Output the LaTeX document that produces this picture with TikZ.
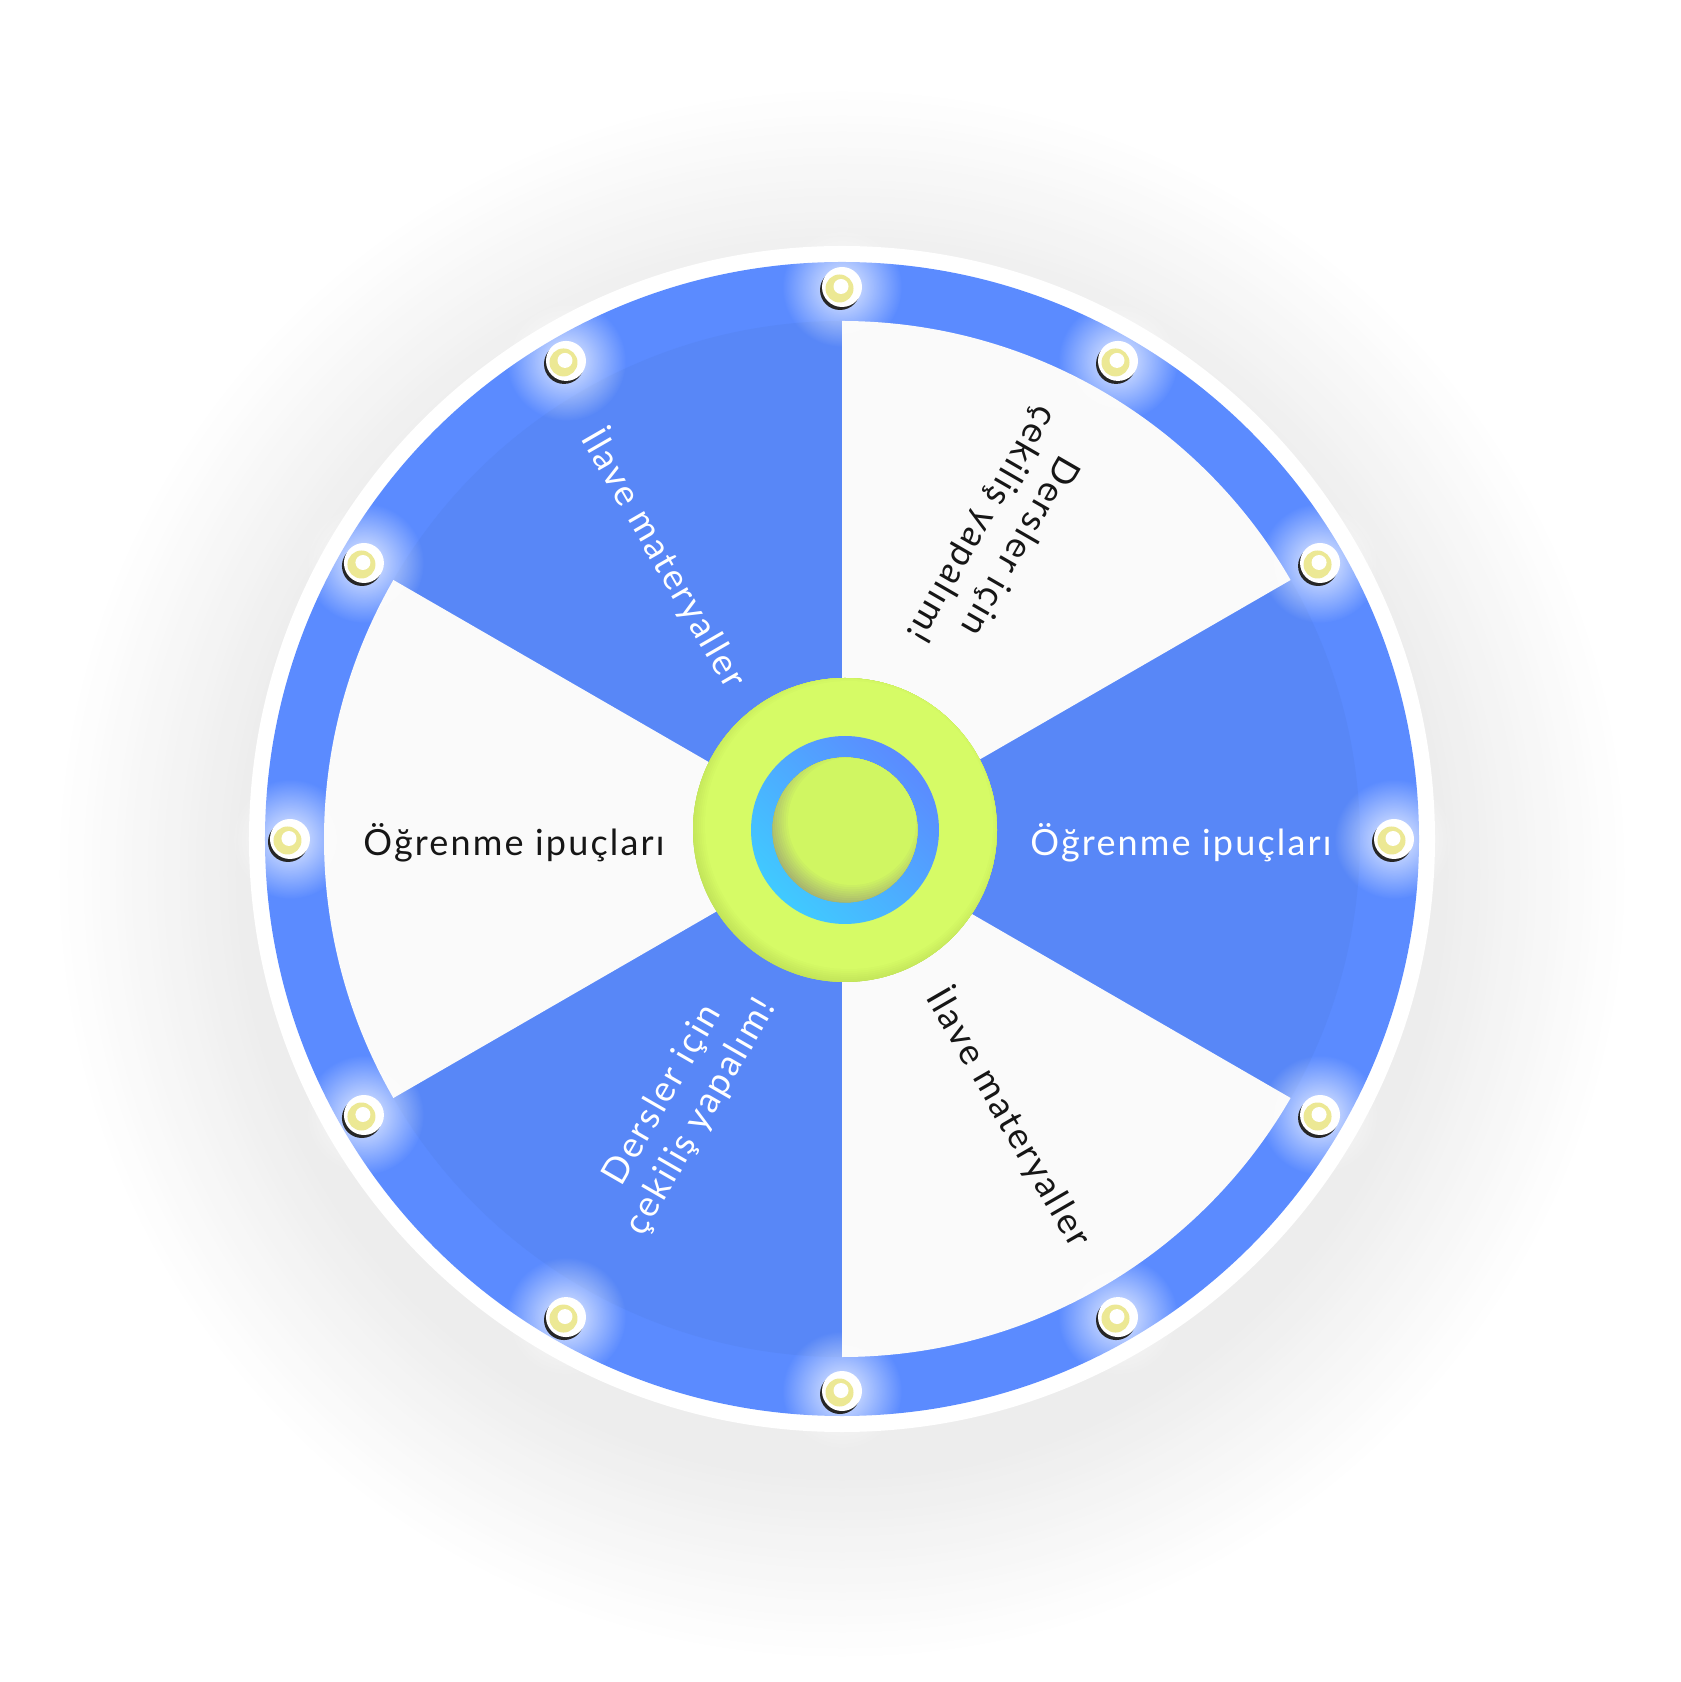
\documentclass[tikz,border=0pt]{standalone}
\usepackage{fontspec}
\usepackage{tikz}
\usetikzlibrary{fadings,calc}

\newfontfamily\wheelfont[LetterSpace=6]{Lato}

\definecolor{ringblue}{RGB}{91,139,255}
\definecolor{sectorblue}{RGB}{88,135,247}
\definecolor{sectorwhite}{RGB}{250,250,250}
\definecolor{halogray}{RGB}{236,236,236}
\definecolor{hublime}{RGB}{214,251,102}
\definecolor{hubshade}{RGB}{192,226,88}
\definecolor{hubcyan}{RGB}{64,202,255}
\definecolor{hubblue}{RGB}{91,139,255}
\definecolor{innerlime}{RGB}{208,246,98}
\definecolor{innershade}{RGB}{164,176,112}
\definecolor{bulbyellow}{RGB}{236,232,148}
\definecolor{labeldark}{RGB}{22,22,22}

\tikzfading[name=bulbglow, inner color=transparent!0, outer color=transparent!100]

\tikzset{
	txtlight/.style={text=white},
	txtdark/.style={text=labeldark},
}

\begin{document}
\begin{tikzpicture}[x=0.02cm, y=0.02cm]
	\tikzstyle{every node}=[font={\wheelfont\fontsize{20.5}{25}\selectfont}, align=center]

	%page
	\useasboundingbox (-842,-843) rectangle (838,839);
	\fill[white] (-842,-843) rectangle (838,839);
	\foreach \i in {0,...,24} {
		\pgfmathsetmacro{\r}{790-8*\i}
		\pgfmathtruncatemacro{\m}{4*\i}
		\fill[halogray!\m!white] (0,-35) circle (\r);
	}

	%rim
	\fill[white] (0,0) circle (593);
	\fill[ringblue] (0,0) circle (577);

	%sectors
	\foreach \a in {90,210,330}
		\fill[sectorblue] (0,0) -- (\a:518) arc[start angle=\a, end angle=\a+60, radius=518] -- cycle;
	\foreach \a in {30,150,270}
		\fill[sectorwhite] (0,0) -- (\a:518) arc[start angle=\a, end angle=\a+60, radius=518] -- cycle;

	%bulbs
	\foreach \a in {0,30,...,330} {
		\begin{scope}[shift={(\a:552)}]
			\fill[white, path fading=bulbglow, opacity=0.85] (0,0) circle (60);
			\fill[black!85] (-2,-3) circle (20);
			\fill[white] (0,0) circle (20);
			\fill[bulbyellow] (-2.5,-1.5) circle (14);
			\fill[white] (-1,0.5) circle (7.5);
		\end{scope}
	}

	%hub
	\coordinate (hub) at (3,9);
	\begin{scope}
		\clip (hub) circle (152);
		\fill[hubshade] (hub) circle (152);
		\foreach \i in {0,...,8} {
			\pgfmathsetmacro{\r}{160-2*\i}
			\pgfmathtruncatemacro{\m}{12.5*\i}
			\fill[hublime!\m!hubshade] ($(hub)+(4,5)$) circle (\r);
		}
	\end{scope}
	\shade[left color=hubcyan, middle color=hubblue!85!hubcyan, right color=hubblue, shading angle=135] (hub) circle (94);
	\begin{scope}
		\clip (hub) circle (72.5);
		\fill[innershade] (hub) circle (72.5);
		\foreach \i in {0,...,10} {
			\pgfmathsetmacro{\r}{86-2.2*\i}
			\pgfmathtruncatemacro{\m}{10*\i}
			\fill[innerlime!\m!innershade] ($(hub)+(7,9)$) circle (\r);
		}
	\end{scope}

	%labels
	\node[txtlight] (tips-a) at (339,-4) {Öğrenme ipuçları};
	\node[txtdark] (tips-b) at (-328,-4) {Öğrenme ipuçları};
	\node[txtlight, rotate=-60] (extra-a) at (-177,281) {İlave materyaller};
	\node[txtdark, rotate=-60] (extra-b) at (168,-278) {İlave materyaller};
	\node[txtdark, rotate=-120] (draw-a) at (158,304) {Dersler için\\çekiliş yapalım!};
	\node[txtlight, rotate=60] (draw-b) at (-160,-267) {Dersler için\\çekiliş yapalım!};
\end{tikzpicture}
\end{document}
